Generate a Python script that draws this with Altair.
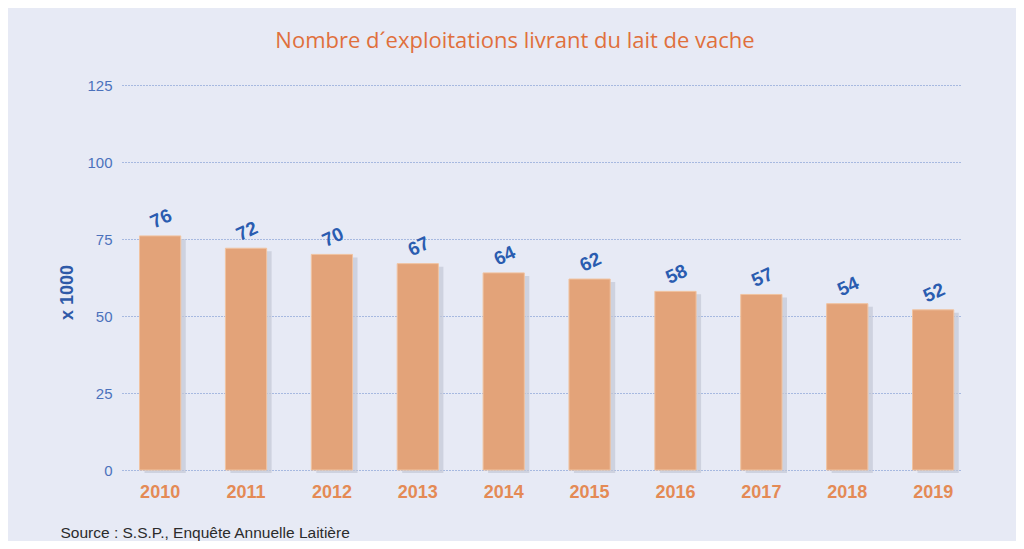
import altair as alt
import pandas as pd

years = ["2010", "2011", "2012", "2013", "2014", "2015", "2016", "2017", "2018", "2019"]
values = [76, 72, 70, 67, 64, 62, 58, 57, 54, 52]
y_ticks = [0, 25, 50, 75, 100, 125]

title_text = "Nombre d\u00b4exploitations livrant du lait de vache"
source_text = "Source : S.S.P., Enqu\u00eate Annuelle Laiti\u00e8re"

df = pd.DataFrame({"year": years, "value": values})

x = alt.X(
    "year:N",
    sort=years,
    scale=alt.Scale(paddingInner=0.52, paddingOuter=0.15, align=0.68),
    axis=alt.Axis(
        title=source_text,
        titleAnchor="start",
        titleX=-62,
        titleY=67,
        titleBaseline="alphabetic",
        titleFont="Liberation Sans",
        titleFontSize=15.5,
        titleFontWeight="normal",
        titleColor="#2b2b2b",
        labelAngle=0,
        labelFont="Liberation Sans Narrow, Liberation Sans",
        labelFontWeight="bold",
        labelFontSize=18,
        labelColor="#e48a55",
        labelPadding=13,
        ticks=False,
        domain=False,
        grid=False,
    ),
)
y = alt.Y(
    "value:Q",
    scale=alt.Scale(domain=[0, 125], nice=False),
    axis=alt.Axis(
        values=y_ticks,
        title="x 1000",
        titleX=-46,
        titleY=207,
        titleFont="Liberation Sans",
        titleFontSize=18,
        titleFontWeight="bold",
        titleColor="#2f5aa8",
        labelFont="Liberation Sans Narrow, Liberation Sans",
        labelFontSize=15,
        labelColor="#4c72bc",
        labelPadding=10,
        ticks=False,
        domain=False,
        grid=True,
        gridColor="#5a7fc8",
        gridDash=[1, 2],
        gridWidth=1,
        gridOpacity=0.9,
    ),
)

base = alt.Chart(df)
shadow = base.mark_bar(color="#c3c8d6", opacity=0.7, xOffset=5, yOffset=3).encode(x=x, y=y)
bars = base.mark_bar(color="#e3a379", stroke="#f0c3a0", strokeWidth=1).encode(x=x, y=y)
labels = base.mark_text(
    angle=335,
    yOffset=-17,
    xOffset=1,
    font="Liberation Sans",
    fontWeight="bold",
    fontSize=19,
    color="#2a5cb0",
    align="center",
    baseline="middle",
).encode(x=x, y=y, text="value:Q")

chart = (
    alt.layer(shadow, bars, labels)
    .properties(
        width=840,
        height=385,
        title=alt.Title(
            title_text,
            font="Open Sans",
            fontSize=22,
            fontWeight="normal",
            color="#e0703c",
            anchor="middle",
            dx=-27,
            offset=25,
        ),
        autosize=alt.AutoSizeParams(type="none"),
        padding={"left": 114, "top": 77, "right": 54, "bottom": 71},
        background="#e7eaf5",
    )
    .configure_view(stroke=None)
)

chart.save("out.html", embed_options={"renderer": "svg", "actions": False})
